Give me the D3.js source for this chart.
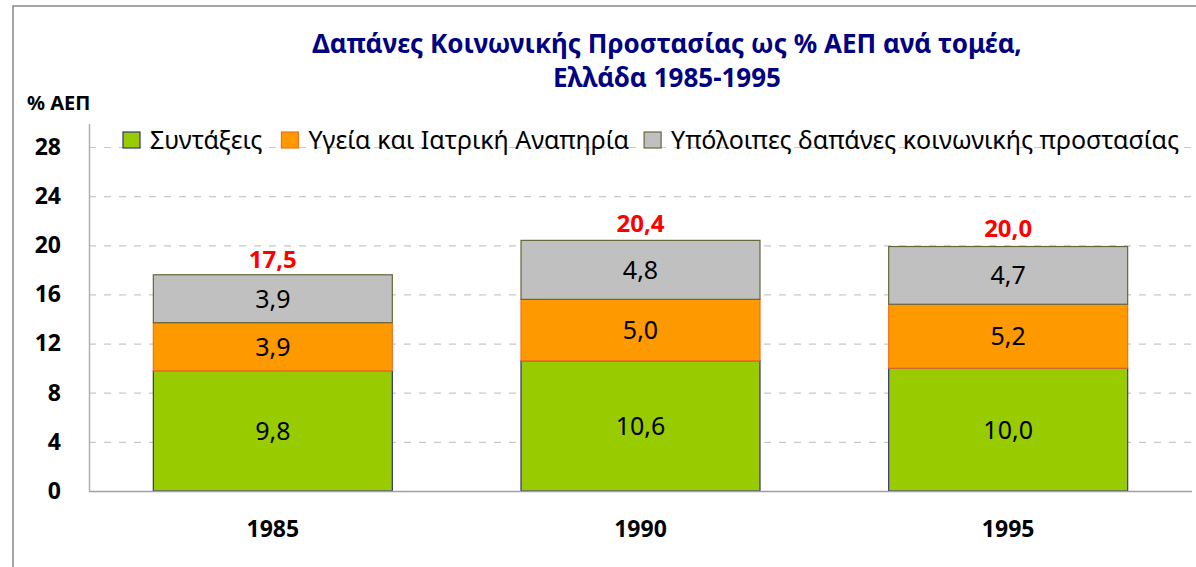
<!DOCTYPE html>
<html><head><meta charset="utf-8">
<script src="https://cdn.jsdelivr.net/npm/d3@7"></script>
<style>body{margin:0;background:#fff;}svg{display:block;}</style>
</head><body>
<script>
const years = ["1985", "1990", "1995"];
const seriesNames = ["Συντάξεις", "Υγεία και Ιατρική Αναπηρία", "Υπόλοιπες δαπάνες κοινωνικής προστασίας"];
const pensions = [9.8, 10.6, 10.0];
const health = [3.9, 5.0, 5.2];
const other = [3.9, 4.8, 4.7];
const totals = [17.5, 20.4, 20.0];
const yTicks = [0, 4, 8, 12, 16, 20, 24, 28];
const titleLines = ["Δαπάνες Κοινωνικής Προστασίας ως % ΑΕΠ ανά τομέα,", "Ελλάδα 1985-1995"];
const yAxisTitle = "% ΑΕΠ";

const fills = ["#99CC00", "#FF9900", "#C0C0C0"];
const strokes = ["#333380", "#F07020", "#66663A"];
const font = "'Noto Sans', 'Open Sans', sans-serif";

const W = 1196, H = 567;
const svg = d3.select("body").append("svg").attr("width", W).attr("height", H)
  .style("font-family", font);

// outer frame
svg.append("rect").attr("x", 13).attr("y", 6).attr("width", W).attr("height", H)
  .attr("fill", "#fff").attr("stroke", "#888").attr("stroke-width", 1.5);

const x0 = 89, x1 = 1192, yBottom = 491, yTop = 124;
const x = d3.scaleBand().domain(years).range([x0, x1]).paddingInner(0.35).paddingOuter(0.175);
const y = d3.scaleLinear().domain([0, 30]).range([yBottom, yBottom - 30 * (344 / 28)]);

// gridlines
svg.append("g").selectAll("line").data(yTicks.filter(d => d > 0)).join("line")
  .attr("x1", x0).attr("x2", x1).attr("y1", d => y(d) + 0.5).attr("y2", d => y(d) + 0.5)
  .attr("stroke", "#c8c8c8").attr("stroke-width", 1.2).attr("stroke-dasharray", "7,8");

// y axis
const yAxis = d3.axisLeft(y).tickValues(yTicks).tickSize(0).tickPadding(28);
const gy = svg.append("g").attr("transform", `translate(${x0},0)`).call(yAxis);
gy.select(".domain").remove();
gy.selectAll("text").attr("font-family", font).attr("font-size", 23).attr("font-weight", "bold").attr("fill", "#000");
svg.append("line").attr("x1", x0 + 0.5).attr("x2", x0 + 0.5).attr("y1", yTop).attr("y2", yBottom)
  .attr("stroke", "#b0b0b0").attr("stroke-width", 1.5);

// stacked bars
const rows = years.map((yr, i) => ({year: yr, total: totals[i]}));
const stackData = years.map((yr, i) => ({year: yr, s0: pensions[i], s1: health[i], s2: other[i]}));
const stack = d3.stack().keys(["s0", "s1", "s2"])(stackData);

const gBars = svg.append("g");
stack.forEach((layer, li) => {
  gBars.append("g").selectAll("rect").data(layer).join("rect")
    .attr("x", d => x(d.data.year)).attr("width", x.bandwidth())
    .attr("y", d => y(d[1])).attr("height", d => y(d[0]) - y(d[1]))
    .attr("fill", fills[li]).attr("stroke", strokes[li]).attr("stroke-width", 1.2);
  gBars.append("g").selectAll("text").data(layer).join("text")
    .attr("x", d => x(d.data.year) + x.bandwidth() / 2)
    .attr("y", d => (y(d[0]) + y(d[1])) / 2)
    .attr("dy", "0.36em").attr("text-anchor", "middle")
    .attr("font-size", 25).attr("fill", "#000")
    .text(d => (d[1] - d[0]).toFixed(1).replace(".", ","));
});

// totals
svg.append("g").selectAll("text").data(rows).join("text")
  .attr("x", d => x(d.year) + x.bandwidth() / 2)
  .attr("y", d => y(d.total) - 8)
  .attr("text-anchor", "middle").attr("font-size", 24).attr("font-weight", "bold").attr("fill", "#FF0000")
  .text(d => d.total.toFixed(1).replace(".", ","));

// x baseline
svg.append("line").attr("x1", x0).attr("x2", x1).attr("y1", yBottom + 0.5).attr("y2", yBottom + 0.5)
  .attr("stroke", "#a0a0a0").attr("stroke-width", 1.5);

// x axis labels
const xAxis = d3.axisBottom(x).tickSize(0).tickPadding(30);
const gx = svg.append("g").attr("transform", `translate(0,${yBottom})`).call(xAxis);
gx.select(".domain").remove();
gx.selectAll("text").attr("font-family", font).attr("font-size", 23).attr("font-weight", "bold").attr("fill", "#000");

// title
svg.append("g").selectAll("text").data(titleLines).join("text")
  .attr("x", 667).attr("y", (d, i) => 53 + i * 34)
  .attr("text-anchor", "middle").attr("font-size", 26).attr("font-weight", "bold").attr("fill", "#000080")
  .text(d => d);

// y axis title
svg.append("text").attr("x", 27).attr("y", 110).attr("font-size", 20).attr("font-weight", "bold")
  .attr("fill", "#000").text(yAxisTitle);

// legend
const leg = svg.append("g");
let lx = 123;
const gaps = [19, 15, 0];
seriesNames.forEach((name, i) => {
  leg.append("rect").attr("x", lx).attr("y", 132).attr("width", 17).attr("height", 16)
    .attr("fill", fills[i]).attr("stroke", strokes[i]).attr("stroke-width", 1.2);
  const t = leg.append("text").attr("x", lx + 27).attr("y", 149).attr("font-size", 25).attr("fill", "#000").text(name);
  lx = lx + 27 + t.node().getComputedTextLength() + gaps[i];
});
</script>
</body></html>
